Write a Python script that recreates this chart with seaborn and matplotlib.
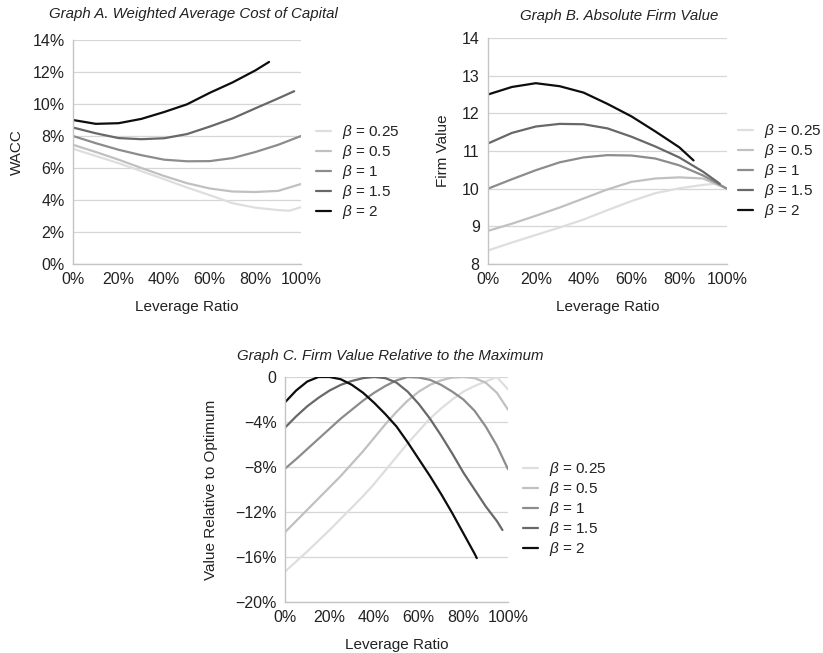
import matplotlib
matplotlib.use('Agg')
import matplotlib.pyplot as plt
import pandas as pd
import seaborn as sns

# leverage grids (%), different curves stop at different points
lev = [0, 10, 20, 30, 40, 50, 60, 70, 80, 90, 100]
lev_b025 = [0, 10, 20, 30, 40, 50, 60, 70, 80, 90, 95, 100]
lev_b15 = [0, 10, 20, 30, 40, 50, 60, 70, 80, 90, 97]
lev_b2 = [0, 10, 20, 30, 40, 50, 60, 70, 80, 86]

# finer grids for graph C (sharper peaks)
lev_c = [0, 5, 10, 15, 20, 25, 30, 35, 40, 45, 50, 55, 60, 65, 70, 75, 80, 85, 90, 95, 100]
lev_c_b15 = [0, 5, 10, 15, 20, 25, 30, 35, 40, 45, 50, 55, 60, 65, 70, 75, 80, 85, 90, 95, 97.5]
lev_c_b2 = [0, 5, 10, 15, 20, 25, 30, 35, 40, 45, 50, 55, 60, 65, 70, 75, 80, 85, 86]

BETAS = ['0.25', '0.5', '1', '1.5', '2']
COLORS = ['#dedede', '#c0c0c0', '#8c8c8c', '#686868', '#0d0d0d']

# Graph A: WACC (%)
wacc_b025 = [7.2, 6.75, 6.3, 5.8, 5.3, 4.78, 4.3, 3.8, 3.52, 3.37, 3.33, 3.55]
wacc_b05 = [7.45, 7.0, 6.52, 6.0, 5.5, 5.05, 4.72, 4.53, 4.5, 4.57, 5.0]
wacc_b1 = [8.0, 7.55, 7.14, 6.8, 6.52, 6.42, 6.43, 6.62, 7.0, 7.45, 8.0]
wacc_b15 = [8.53, 8.17, 7.87, 7.8, 7.86, 8.12, 8.59, 9.1, 9.73, 10.35, 10.8]
wacc_b2 = [9.0, 8.76, 8.8, 9.07, 9.5, 9.98, 10.7, 11.35, 12.1, 12.63]

# Graph B: firm value
value_b025 = [8.36, 8.57, 8.77, 8.97, 9.18, 9.43, 9.67, 9.88, 10.01, 10.1, 10.13, 10.0]
value_b05 = [8.88, 9.07, 9.28, 9.5, 9.74, 9.98, 10.18, 10.27, 10.3, 10.27, 10.0]
value_b1 = [10.0, 10.25, 10.49, 10.7, 10.83, 10.89, 10.88, 10.8, 10.62, 10.35, 10.0]
value_b15 = [11.2, 11.48, 11.65, 11.72, 11.71, 11.6, 11.38, 11.12, 10.83, 10.45, 10.13]
value_b2 = [12.5, 12.7, 12.8, 12.72, 12.55, 12.25, 11.92, 11.52, 11.1, 10.75]

# Graph C: value relative to the maximum (%)
rel_b025 = [-17.3, -16.4, -15.5, -14.55, -13.6, -12.6, -11.6, -10.6, -9.5, -8.3, -7.1,
            -5.9, -4.8, -3.7, -2.8, -2.0, -1.3, -0.8, -0.4, 0.0, -1.1]
rel_b05 = [-13.8, -12.8, -11.8, -10.8, -9.8, -8.8, -7.7, -6.6, -5.4, -4.2, -3.1,
           -2.1, -1.3, -0.7, -0.3, -0.05, 0.0, -0.1, -0.5, -1.4, -2.9]
rel_b1 = [-8.15, -7.3, -6.4, -5.5, -4.6, -3.7, -2.9, -2.1, -1.4, -0.8, -0.3,
          0.0, -0.05, -0.25, -0.7, -1.3, -2.0, -3.0, -4.4, -6.1, -8.2]
rel_b15 = [-4.5, -3.5, -2.6, -1.85, -1.2, -0.7, -0.35, -0.1, 0.0, -0.1, -0.5,
           -1.3, -2.4, -3.7, -5.2, -6.8, -8.5, -10.0, -11.5, -12.8, -13.6]
rel_b2 = [-2.25, -1.2, -0.4, 0.0, 0.0, -0.2, -0.7, -1.4, -2.3, -3.3, -4.4,
          -5.8, -7.3, -8.8, -10.4, -12.1, -13.9, -15.7, -16.1]

X_TICKS = [0, 20, 40, 60, 80, 100]
X_TICKLABELS = ['0%', '20%', '40%', '60%', '80%', '100%']
A_TICKS = [0, 2, 4, 6, 8, 10, 12, 14]
A_TICKLABELS = ['0%', '2%', '4%', '6%', '8%', '10%', '12%', '14%']
B_TICKS = [8, 9, 10, 11, 12, 13, 14]
B_TICKLABELS = ['8', '9', '10', '11', '12', '13', '14']
C_TICKS = [-20, -16, -12, -8, -4, 0]
C_TICKLABELS = ['\u221220%', '\u221216%', '\u221212%', '\u22128%', '\u22124%', '0']

TEXT_COLOR = '#222222'
AXIS_COLOR = '#c4c4c4'


def long_frame(xs, series):
    rows = []
    for beta, x_vals, vals in zip(BETAS, xs, series):
        for x, v in zip(x_vals, vals):
            rows.append({'lev': x, 'val': v, 'beta': beta})
    return pd.DataFrame(rows)


def draw_panel(fig, rect, xs, series, yticks, yticklabels, ylabel, ylab_x, legend_xy):
    ax = fig.add_axes(rect)
    df = long_frame(xs, series)
    sns.lineplot(data=df, x='lev', y='val', hue='beta', hue_order=BETAS,
                 palette=COLORS, estimator=None, sort=False, lw=1.6,
                 legend=False, ax=ax)
    ax.set_xlim(0, 100)
    ax.set_ylim(yticks[0], yticks[-1])
    ax.set_xticks(X_TICKS)
    ax.set_xticklabels(X_TICKLABELS)
    ax.set_yticks(yticks)
    ax.set_yticklabels(yticklabels)
    ax.grid(axis='y', color='#d6d6d6', lw=0.9)
    ax.set_axisbelow(True)
    for side in ['top', 'right']:
        ax.spines[side].set_visible(False)
    for side in ['left', 'bottom']:
        ax.spines[side].set_color(AXIS_COLOR)
        ax.spines[side].set_linewidth(1.0)
    ax.tick_params(axis='both', length=4, width=0.9, color=AXIS_COLOR,
                   labelsize=11.5, labelcolor=TEXT_COLOR, pad=2)
    ax.set_ylabel(ylabel, fontsize=11, color=TEXT_COLOR)
    ax.yaxis.set_label_coords(ylab_x, 0.5)
    ax.set_xlabel('Leverage Ratio', fontsize=11, color=TEXT_COLOR)
    ax.xaxis.set_label_coords(0.5, -0.16)

    labels = [r'$\beta$ = ' + b for b in BETAS]
    ax.legend(ax.lines, labels, loc='upper left',
              bbox_to_anchor=legend_xy, bbox_transform=fig.transFigure,
              frameon=False, fontsize=11, handlelength=1.0,
              handletextpad=0.7, labelspacing=0.13, borderpad=0,
              borderaxespad=0, labelcolor=TEXT_COLOR)
    return ax


def main():
    sns.set_theme(style='white')
    plt.rcParams['font.family'] = ['Liberation Sans', 'DejaVu Sans']
    plt.rcParams['mathtext.fontset'] = 'custom'
    plt.rcParams['mathtext.it'] = 'Liberation Sans:italic'
    plt.rcParams['mathtext.rm'] = 'Liberation Sans'

    W, H = 823, 653
    fig = plt.figure(figsize=(W / 100, H / 100), dpi=100)

    def rect(x0, y0, x1, y1):
        return [x0 / W, 1 - y1 / H, (x1 - x0) / W, (y1 - y0) / H]

    draw_panel(fig, rect(73, 40, 301, 264),
               [lev_b025, lev, lev, lev_b15, lev_b2],
               [wacc_b025, wacc_b05, wacc_b1, wacc_b15, wacc_b2],
               A_TICKS, A_TICKLABELS, 'WACC', -0.215, (316 / W, 1 - 123 / H))
    draw_panel(fig, rect(488, 38, 727, 264),
               [lev_b025, lev, lev, lev_b15, lev_b2],
               [value_b025, value_b05, value_b1, value_b15, value_b2],
               B_TICKS, B_TICKLABELS, 'Firm Value', -0.158, (738 / W, 1 - 122 / H))
    draw_panel(fig, rect(285, 377, 508, 602),
               [lev_c, lev_c, lev_c, lev_c_b15, lev_c_b2],
               [rel_b025, rel_b05, rel_b1, rel_b15, rel_b2],
               C_TICKS, C_TICKLABELS, 'Value Relative to Optimum', -0.30,
               (523 / W, 1 - 460 / H))

    title_kw = dict(ha='center', va='center', fontsize=10.8, style='italic', color=TEXT_COLOR)
    fig.text(193 / W, 1 - 14 / H, 'Graph A. Weighted Average Cost of Capital', **title_kw)
    fig.text(619 / W, 1 - 16 / H, 'Graph B. Absolute Firm Value', **title_kw)
    fig.text(390 / W, 1 - 356 / H, 'Graph C. Firm Value Relative to the Maximum', **title_kw)

    fig.savefig('out.png', dpi=100)


if __name__ == '__main__':
    main()
